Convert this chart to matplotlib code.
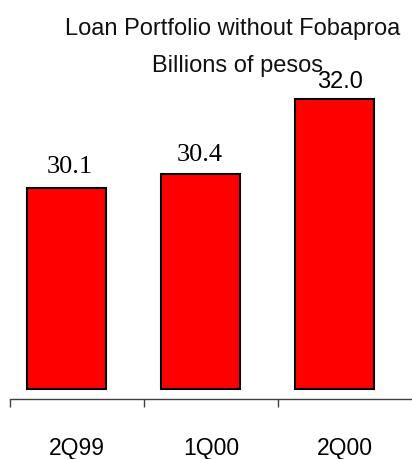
import numpy as np
import matplotlib
matplotlib.use("Agg")
from matplotlib import pyplot as plt

# Data
quarters = ['2Q99', '1Q00', '2Q00']
loans = [30.1, 30.4, 32.0]
value_labels = ['30.1', '30.4', '32.0']
base = 25.85  # truncated axis baseline

fig = plt.figure(figsize=(4.12, 4.6), dpi=100)
ax = fig.add_axes([10 / 412, 60 / 460, 1 - 10 / 412, 360 / 460])

x = np.arange(len(quarters))
heights = [v - base for v in loans]
ax.bar(x - 0.075, heights, bottom=base, width=0.59, color='#ff0000',
       edgecolor='black', linewidth=1.5)

# the last label is in a sans font in the original, the others serif
label_fonts = ['Liberation Serif', 'Liberation Serif', 'Liberation Sans']
label_sizes = [19, 19, 17]
label_dx = [2, -1, 4]
label_dy = [8, 7, 5]
for xi, v, lab, fam, fs, dx, dy in zip(x, loans, value_labels, label_fonts,
                                       label_sizes, label_dx, label_dy):
    ax.annotate(lab, (xi - 0.075, v), xytext=(dx, dy), textcoords='offset points',
                ha='center', va='bottom', fontsize=fs, family=fam)

ax.set_xlim(-0.5, 2.5)
ax.set_ylim(base - 0.212, base - 0.212 + 360 / 47.2)

for s in ['top', 'right', 'left']:
    ax.spines[s].set_visible(False)
ax.spines['bottom'].set_color('#404040')
ax.spines['bottom'].set_linewidth(1)
ax.set_yticks([])

ax.set_xticks(x)
ax.set_xticklabels(quarters, fontsize=16.5, family='Liberation Sans')
ax.tick_params(axis='x', which='major', length=0, pad=27)
ax.set_xticks([-0.5, 0.5, 1.5], minor=True)
ax.tick_params(axis='x', which='minor', length=6, width=1, color='#404040')

fig.text(233 / 412, 1 - 29 / 460, 'Loan Portfolio without Fobaproa',
         ha='center', va='center', fontsize=17, color='#111111',
         family='Liberation Sans')
fig.text(237 / 412, 1 - 66 / 460, 'Billions of pesos',
         ha='center', va='center', fontsize=17, color='#111111',
         family='Liberation Sans')

fig.savefig('out.png', dpi=100)
